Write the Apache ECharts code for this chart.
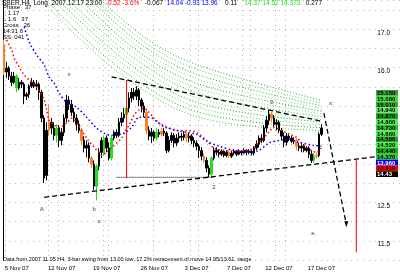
<!DOCTYPE html>
<html><head><meta charset="utf-8">
<script src="https://cdn.jsdelivr.net/npm/echarts@6/dist/echarts.min.js"></script>
<style>html,body{margin:0;padding:0;background:#fff}#c{width:400px;height:274px}</style>
</head><body><div id="c"></div>
<script>
// ---------- data ----------
const categories = Array.from({length: 159}, (_, i) => 'bar ' + i);
const tickIdx = [5, 23, 41, 60, 77, 94, 110, 127];
const tickLabels = ['5 Nov 07', '12 Nov 07', '19 Nov 07', '26 Nov 07', '3 Dec 07', '7 Dec 07', '12 Dec 07', '17 Dec 07'];
const gridIdx = [1, 18, 22, 40, 42, 60, 75, 78, 96, 99, 109, 113];
const rightTicks = [17, 16, 12.5, 11.5];

// [open, close, low, high]
const ohlc = [
[16.59,15.89,15.81,16.72],[15.89,15.99,15.73,16.15],[15.99,15.78,15.68,16.04],[15.78,15.62,15.52,15.89],
[15.62,15.78,15.57,15.89],[15.78,15.47,15.36,15.83],[15.47,15.62,15.42,15.73],[15.62,15.57,15.47,15.68],
[15.57,15.26,15.05,15.62],[15.26,15.31,15.16,15.36],[15.31,15.52,15.21,15.57],[15.52,15.62,15.47,15.73],
[15.62,15.52,15.47,15.68],[15.52,15.57,15.42,15.68],[15.57,15.36,15.16,15.62],[15.36,14.69,14.58,15.42],
[14.69,13.13,13.00,14.77],[13.20,14.37,13.07,14.58],[14.37,14.58,14.24,15.05],[14.58,14.43,14.27,14.69],
[14.43,14.24,14.11,14.58],[14.24,14.43,14.06,14.53],[14.43,14.11,13.93,14.51],[14.11,14.32,13.98,14.43],
[14.32,14.69,14.22,14.79],[14.69,15.16,14.58,15.29],[15.16,15.05,14.90,15.26],[15.05,14.84,14.74,15.16],
[14.84,14.69,14.58,14.95],[14.69,14.53,14.37,14.79],[14.53,14.37,14.30,14.63],[14.37,14.11,13.98,14.43],
[14.11,13.91,13.80,14.22],[13.91,13.98,13.67,14.11],[13.98,13.65,13.54,14.06],[13.65,13.49,13.39,13.70],
[13.49,12.92,12.81,13.59],[12.92,13.44,12.55,13.49],[13.44,13.80,13.33,13.91],[13.80,14.11,13.65,14.19],
[13.78,14.17,13.70,14.22],[14.17,13.91,13.80,14.24],[13.91,13.65,13.59,14.06],[13.65,14.17,13.59,14.22],
[14.17,14.32,14.11,14.37],[14.32,14.24,14.17,14.40],[14.24,14.58,14.19,14.69],[14.58,14.69,14.48,14.84],
[14.69,14.79,14.58,14.95],[14.79,14.95,14.69,15.05],[14.95,15.21,14.84,15.36],[15.21,15.36,15.10,15.47],
[15.36,15.26,15.16,15.47],[15.26,15.42,15.16,15.52],[15.42,15.16,15.00,15.47],[15.16,15.00,14.84,15.21],
[15.00,14.84,14.71,15.10],[14.84,14.37,14.27,14.90],[14.37,14.22,14.11,14.48],[14.22,14.32,14.04,14.43],
[14.32,14.17,14.09,14.37],[14.17,14.32,14.11,14.43],[14.32,14.27,14.19,14.40],[14.27,14.35,14.22,14.43],
[14.35,14.30,14.22,14.43],[14.30,13.85,13.78,14.35],[13.85,14.11,13.80,14.22],[14.11,14.24,14.04,14.32],
[14.24,14.04,13.93,14.30],[14.04,14.17,13.96,14.27],[14.17,14.22,14.06,14.32],[14.22,14.19,14.09,14.30],
[14.19,14.27,14.11,14.35],[14.27,14.17,14.06,14.32],[14.17,14.22,14.06,14.30],[14.22,14.11,14.01,14.27],
[14.11,14.04,13.93,14.19],[14.04,13.96,13.85,14.11],[13.96,13.85,13.65,14.01],[13.85,13.70,13.59,13.93],
[13.70,13.59,13.52,13.78],[13.59,13.39,13.28,13.67],[13.39,13.23,13.15,13.46],[13.23,13.65,13.15,13.70],
[13.65,13.85,13.59,13.93],[13.85,13.80,13.72,13.93],[13.80,13.75,13.67,13.88],[13.75,13.83,13.70,13.88],
[13.83,13.72,13.67,13.85],[13.72,13.80,13.67,13.85],[13.80,13.70,13.65,13.85],[13.70,13.78,13.65,13.83],
[13.78,13.83,13.72,13.88],[13.83,13.75,13.70,13.85],[13.75,13.83,13.72,13.88],[13.83,13.78,13.72,13.85],
[13.78,13.85,13.75,13.91],[13.85,13.80,13.72,13.88],[13.80,13.83,13.75,13.88],[13.83,13.78,13.72,13.85],
[13.78,13.91,13.72,13.96],[13.91,14.01,13.85,14.11],[14.01,14.17,13.93,14.24],[14.17,14.11,14.04,14.27],
[14.11,14.43,14.06,14.51],[14.43,14.63,14.32,14.74],[14.63,14.79,14.51,14.90],[14.79,14.69,14.58,14.84],
[14.69,14.53,14.45,14.77],[14.53,14.58,14.37,14.66],[14.58,14.37,14.30,14.63],[14.37,14.22,14.11,14.43],
[14.22,14.06,13.93,14.32],[14.06,14.22,13.98,14.30],[14.22,14.17,14.09,14.30],[14.17,14.09,14.04,14.22],
[14.09,14.11,14.01,14.19],[14.11,13.96,13.85,14.17],[13.96,13.91,13.83,14.04],[13.91,13.96,13.80,14.01],
[13.96,13.85,13.80,14.01],[13.85,13.91,13.80,13.96],[13.91,13.75,13.65,13.96],[13.75,13.59,13.52,13.85],
[13.59,13.70,13.52,13.78],[13.70,13.72,13.65,13.80],[13.72,14.27,13.67,14.32],[14.27,14.43,14.22,14.53]
];
const greenBars = [5, 21, 37, 40, 43, 49, 61, 83, 124];
const orangeBars = [0, 18, 31, 35, 57, 63, 73, 80, 90, 107, 117, 125];

// moving averages read at points [barIndex, value]
const redMA = [[1,16.72],[3,16.46],[4,16.25],[6,16.02],[8,15.81],[10,15.68],[13,15.49],[16,15.16],[17,14.90],[18,14.63],
[20,14.51],[22,14.45],[25,14.56],[27,14.69],[29,14.58],[31,14.37],[33,14.17],[36,13.93],[38,13.80],[39,13.72],
[41,13.80],[43,13.93],[45,14.04],[47,14.17],[48,14.30],[50,14.51],[52,14.77],[54,14.90],[56,14.95],[58,14.84],
[60,14.69],[62,14.56],[64,14.45],[66,14.43],[69,14.37],[73,14.37],[77,14.32],[81,14.11],[84,13.91],[88,13.85],
[94,13.83],[98,13.85],[102,14.06],[103,14.11],[106,14.32],[108,14.45],[111,14.37],[114,14.27],[117,14.19],
[120,13.98],[123,13.85],[125,13.80],[127,13.91]];
const blueMA = [[8,17.06],[10,16.67],[13,16.33],[16,16.07],[18,15.75],[20,15.60],[22,15.34],[25,15.10],[29,14.97],
[33,14.71],[37,14.43],[40,14.30],[43,14.24],[48,14.30],[51,14.45],[54,14.71],[58,14.71],[62,14.56],[65,14.45],
[69,14.37],[73,14.32],[77,14.27],[81,14.09],[86,13.96],[92,13.85],[98,13.80],[102,13.85],[106,14.04],[110,14.11],
[114,14.14],[118,14.06],[124,13.98],[127,13.96]];

// green fan curves, bottom (0) to top (11)
const fanLines = [
[[14,17.80],[46,15.87],[78,14.71],[127,14.37]],
[[16,17.80],[47,15.95],[78,14.84],[127,14.44]],
[[19,17.80],[49,16.02],[78,14.96],[127,14.52]],
[[21,17.80],[50,16.10],[78,15.08],[127,14.59]],
[[23,17.80],[51,16.17],[78,15.20],[127,14.66]],
[[25,17.80],[52,16.25],[78,15.33],[127,14.73]],
[[28,17.80],[53,16.33],[78,15.45],[127,14.80]],
[[30,17.80],[54,16.40],[78,15.57],[127,14.87]],
[[32,17.80],[55,16.48],[78,15.69],[127,14.94]],
[[34,17.80],[56,16.55],[78,15.81],[127,15.01]],
[[36,17.80],[57,16.63],[78,15.94],[127,15.08]],
[[38,17.80],[58,16.71],[78,16.06],[127,15.15]]
];
const fanColors = ['#33cc33','#22aa22','#44ee44','#2e9e2e','#4df04d','#33bb33','#55ee55','#2a9a2a','#66ee66','#33aa33','#44dd44','#3c9a3c'];

const upperTrend = [[43,15.76],[127,14.61]];
const lowerTrend = [[16,12.63],[157,13.75]];
const projection = [[128,14.82],[137,11.93]];
const supportLevel = [[45,13.15],[84,13.15]];
const redMarker1 = [[49,15.68],[49,13.13]];
const redMarker2 = [[141,13.65],[141,11.20]];
const notes = [
  {name:'x', value:[26,15.83]}, {name:'A', value:[15,12.32]}, {name:'b', value:[36,12.32]},
  {name:'c', value:[38,12.00]}, {name:'2', value:[84,12.89]}, {name:'3', value:[107,15.10]},
  {name:'x:', value:[131,15.08]}, {name:'e,', value:[124,11.69]}
];

// ---------- chart ----------
const FONT = '"Liberation Sans", Arial, sans-serif';
const candleData = ohlc.map((d, i) => {
  let c = null;
  if (greenBars.includes(i)) c = '#22dd22';
  if (orangeBars.includes(i)) c = '#ff7f27';
  return c ? {value: d, itemStyle: {color: c, color0: c, borderColor: c, borderColor0: c}} : d;
});

const dashed = [5, 3];
const series = [];
fanLines.forEach((ln, k) => series.push({
  type: 'line', data: ln, smooth: 0.35, showSymbol: false, silent: true, z: 1,
  lineStyle: {color: fanColors[k], width: 1, type: [1, 2]}
}));
series.push({
  type: 'candlestick', data: candleData, barWidth: 2, z: 3,
  itemStyle: {color: '#000', color0: '#000', borderColor: '#000', borderColor0: '#000', borderWidth: 1}
});
series.push({type: 'line', data: redMA, smooth: 0.3, showSymbol: false, z: 4,
  lineStyle: {color: '#ff0000', width: 1.5, type: [1.5, 2.5]}});
series.push({type: 'line', data: blueMA, smooth: 0.3, showSymbol: false, z: 4,
  lineStyle: {color: '#0000ff', width: 1.5, type: [1.5, 2.5]}});
series.push({type: 'line', data: upperTrend, showSymbol: false, z: 5,
  lineStyle: {color: '#000', width: 1.3, type: dashed}});
series.push({type: 'line', data: lowerTrend, showSymbol: false, z: 5,
  lineStyle: {color: '#000', width: 1.3, type: dashed}});
series.push({type: 'line', data: projection, showSymbol: false, z: 5,
  lineStyle: {color: '#000', width: 1.3, type: dashed},
  markPoint: {symbol: 'triangle', symbolSize: [4, 6], symbolRotate: 180, silent: true,
    itemStyle: {color: '#000'}, label: {show: false},
    data: [{coord: projection[1]}]}});
series.push({type: 'line', data: supportLevel, showSymbol: false, z: 5,
  lineStyle: {color: '#000', width: 1, type: [1, 1]}});
series.push({type: 'line', data: redMarker1, showSymbol: false, z: 6,
  lineStyle: {color: '#ff0000', width: 1}});
series.push({type: 'line', data: redMarker2, showSymbol: false, z: 6,
  lineStyle: {color: '#ff0000', width: 1}});
series.push({type: 'scatter', data: notes, symbolSize: 0, z: 7,
  label: {show: true, formatter: '{b}', position: 'inside', color: '#000', fontSize: 6, fontFamily: FONT}});

// value boxes on the right
const boxItems = [];
for (let k = fanLines.length - 1; k >= 0; k--) {
  const ln = fanLines[k];
  boxItems.push({text: ln[ln.length - 1][1].toFixed(3), fill: fanColors[k], tc: '#000'});
}
boxItems.push({text: blueMA[blueMA.length - 1][1].toFixed(3), fill: '#0000ff', tc: '#fff'});
boxItems.push({text: redMA[redMA.length - 1][1].toFixed(3), fill: '#ff0000', tc: '#000'});
boxItems.push({text: ohlc[ohlc.length - 1][1].toFixed(2), fill: '#000', tc: '#fff'});
const graphics = [];
let by = 90;
boxItems.forEach(b => {
  graphics.push({type: 'rect', z: 100, shape: {x: 376, y: by, width: 22, height: 5.8}, style: {fill: b.fill}});
  graphics.push({type: 'text', z: 101, x: 377, y: by + 0.3, style: {text: b.text, fill: b.tc, font: 'bold 6px ' + FONT}});
  by += 5.8;
});
graphics.push({type: 'text', z: 100, x: 3, y: 4.5, style: {
  text: 'Phase   37\nl: 1.17\nt: 1.6   37\nCross   26\n14:31 6\nSS: 041',
  fill: '#000', font: '6px ' + FONT, lineHeight: 6}});
graphics.push({type: 'text', z: 100, x: 3, y: 256.5, style: {
  text: 'Data from 2007.11.05 H4, 3-bar swing from 13.00 low, 17.2% retracement of move 14.95/13.61, range',
  fill: '#000', font: '5.5px ' + FONT}});
graphics.push({type: 'text', z: 100, x: 2, y: -0.5, style: {
  text: '{k|SBER,H4  Long  2007.12.17 23:00 }{r| -0.52 -3.6%  }{k| -0.067 }{b| 14.04 -0.93 13.96 }{k|   0.11  }{g|  14.37 14.52 14.373 }{k|  0.277}',
  rich: {
    k: {fill: '#000', font: '6.5px ' + FONT},
    r: {fill: '#ff0000', font: '6.5px ' + FONT},
    b: {fill: '#0000ff', font: '6.5px ' + FONT},
    g: {fill: '#22dd22', font: '6.5px ' + FONT}
  }}});

const option = {
  animation: false,
  backgroundColor: '#fff',
  grid: {left: 3, right: 0, top: 0, bottom: 14},
  xAxis: {
    type: 'category', data: categories, boundaryGap: true,
    axisLine: {show: false}, axisTick: {show: false},
    axisLabel: {
      interval: (idx) => tickIdx.includes(idx),
      formatter: (v, idx) => tickLabels[tickIdx.indexOf(idx)] || '',
      fontSize: 6, fontFamily: FONT, color: '#000', margin: 5
    },
    splitLine: {show: true, interval: (idx) => gridIdx.includes(idx),
      lineStyle: {color: '#b8b8b8', width: 1, type: [1, 4]}}
  },
  yAxis: [{
    type: 'value', position: 'right', min: 11.0, max: 17.76, interval: 0.5,
    axisLine: {show: false}, axisTick: {show: false},
    axisLabel: {inside: true, margin: 10, align: 'right', verticalAlign: 'top',
      formatter: (v) => rightTicks.includes(v) ? v.toFixed(1) : '',
      fontSize: 6.5, fontFamily: FONT, color: '#000'},
    splitLine: {show: true, lineStyle: {color: '#b8b8b8', width: 1, type: [1, 5]}}
  }, {
    type: 'value', position: 'left', min: 11.0, max: 17.76,
    axisLine: {show: true, lineStyle: {color: '#000', width: 1}},
    axisTick: {show: false}, axisLabel: {show: false}, splitLine: {show: false}
  }],
  series: series,
  graphic: graphics
};
const chart = echarts.init(document.getElementById('c'));
chart.setOption(option);
</script></body></html>
